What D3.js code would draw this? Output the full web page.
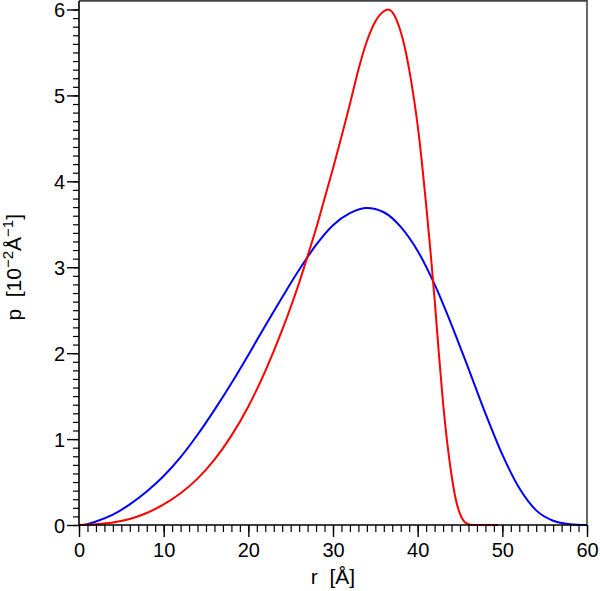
<!DOCTYPE html>
<html>
<head>
<meta charset="utf-8">
<script src="https://cdn.jsdelivr.net/npm/d3@7/dist/d3.min.js"></script>
<style>
	body { margin: 0; background: #fff; }
	svg { display: block; font-family: "Liberation Sans", Arial, sans-serif; }
</style>
</head>
<body>
<svg id="chart"></svg>
<script>
const DIMENSION = {
	width: 600,
	height: 591,
	margin: { left: 79, right: 13, top: 9.5, bottom: 66 }
};
DIMENSION.trueWidth = DIMENSION.width - (DIMENSION.margin.left + DIMENSION.margin.right);
DIMENSION.trueHeight = DIMENSION.height - (DIMENSION.margin.top + DIMENSION.margin.bottom);

// blue curve
const blueR = [0, 1, 2, 4, 6, 8, 10, 12, 14, 16, 18, 20, 22, 24, 26, 28, 30, 32, 34, 36, 38, 40, 42, 44, 46, 48, 50, 52, 54, 56, 58, 60];
const blueP = [0, 0.01, 0.04, 0.12, 0.24, 0.39, 0.57, 0.79, 1.05, 1.34, 1.65, 1.98, 2.32, 2.65, 2.97, 3.26, 3.49, 3.63, 3.69, 3.64, 3.47, 3.19, 2.80, 2.33, 1.82, 1.30, 0.82, 0.43, 0.17, 0.05, 0.01, 0];

// red curve
const redR = [0, 2, 4, 6, 8, 10, 12, 14, 16, 18, 20, 22, 24, 26, 27, 28, 29, 30, 31, 32, 33, 34, 35, 36, 36.5, 37, 37.5, 38, 38.5, 39, 39.5, 40, 40.5, 41, 41.5, 42, 42.5, 43, 43.5, 44, 44.5, 45, 45.5, 46, 46.5, 49.5];
const redP = [0, 0.01, 0.03, 0.07, 0.14, 0.24, 0.37, 0.54, 0.76, 1.04, 1.38, 1.79, 2.27, 2.82, 3.13, 3.45, 3.80, 4.15, 4.52, 4.90, 5.30, 5.63, 5.86, 5.98, 6.0, 5.97, 5.88, 5.74, 5.55, 5.30, 5.00, 4.65, 4.22, 3.73, 3.20, 2.63, 2.00, 1.42, 0.95, 0.58, 0.30, 0.13, 0.04, 0.01, 0, 0];

const xTicks = [0, 10, 20, 30, 40, 50, 60];
const yTicks = [0, 1, 2, 3, 4, 5, 6];

const svg = d3.select('#chart')
	.attr('width', DIMENSION.width)
	.attr('height', DIMENSION.height);

const xScale = d3.scaleLinear()
	.domain([0, 60])
	.range([DIMENSION.margin.left, DIMENSION.margin.left + DIMENSION.trueWidth]);
const yScale = d3.scaleLinear()
	.domain([0, 6])
	.range([DIMENSION.margin.top + DIMENSION.trueHeight, DIMENSION.margin.top]);

// frame (top + right)
svg.append('path')
	.attr('d', `M${xScale(0)},${yScale(6.1)}H${xScale(60)}V${yScale(0)}`)
	.attr('fill', 'none')
	.attr('stroke', '#444')
	.attr('stroke-width', 1.6);

const line = d3.line()
	.x(d => xScale(d[0]))
	.y(d => yScale(d[1]))
	.curve(d3.curveMonotoneX);

svg.append('path')
	.datum(blueR.map((r, i) => [r, blueP[i]]))
	.attr('fill', 'none')
	.attr('stroke', '#0000ff')
	.attr('stroke-width', 2)
	.attr('d', line);

svg.append('path')
	.datum(redR.map((r, i) => [r, redP[i]]))
	.attr('fill', 'none')
	.attr('stroke', '#ff0000')
	.attr('stroke-width', 2)
	.attr('d', line);

// minor ticks
svg.append('g')
	.attr('transform', `translate(0,${yScale(0)})`)
	.call(d3.axisBottom(xScale).tickValues(d3.range(0, 61, 1)).tickSize(7).tickFormat(''))
	.call(g => g.select('.domain').remove())
	.selectAll('line').attr('stroke', '#000').attr('stroke-width', 1.2);
svg.append('g')
	.attr('transform', `translate(${xScale(0)},0)`)
	.call(d3.axisLeft(yScale).tickValues(d3.range(0, 61, 1).map(d => d / 10)).tickSize(6).tickFormat(''))
	.call(g => g.select('.domain').remove())
	.selectAll('line').attr('stroke', '#000').attr('stroke-width', 1.2);

// major axes
const xAxis = svg.append('g')
	.attr('transform', `translate(0,${yScale(0)})`)
	.call(d3.axisBottom(xScale).tickValues(xTicks).tickSize(12).tickPadding(6).tickFormat(d3.format('d')));
const yAxis = svg.append('g')
	.attr('transform', `translate(${xScale(0)},0)`)
	.call(d3.axisLeft(yScale).tickValues(yTicks).tickSize(12).tickPadding(2).tickFormat(d3.format('d')));

for (let ax of [xAxis, yAxis]) {
	ax.select('.domain').remove();
	ax.selectAll('line').attr('stroke', '#000').attr('stroke-width', 1.4);
	ax.selectAll('text')
		.attr('fill', '#000')
		.style('font-family', '"Liberation Sans", Arial, sans-serif')
		.style('font-size', '20px');
}
yAxis.selectAll('text').attr('dy', '0.36em');

// axis lines
svg.append('line')
	.attr('x1', xScale(0)).attr('x2', xScale(0))
	.attr('y1', yScale(0)).attr('y2', yScale(6.1))
	.attr('stroke', '#000').attr('stroke-width', 1.6);
svg.append('line')
	.attr('x1', xScale(0)).attr('x2', xScale(60))
	.attr('y1', yScale(0)).attr('y2', yScale(0))
	.attr('stroke', '#000').attr('stroke-width', 1.6);

// titles
svg.append('text')
	.attr('x', (xScale(0) + xScale(60)) / 2)
	.attr('y', 584)
	.attr('text-anchor', 'middle')
	.style('font-size', '21px')
	.style('white-space', 'pre')
	.text('r  [Å]');

const yTitle = svg.append('text')
	.attr('transform', `translate(21,${(yScale(0) + yScale(6)) / 2}) rotate(-90)`)
	.attr('text-anchor', 'middle')
	.style('font-size', '21px')
	.style('white-space', 'pre');
yTitle.append('tspan').text('p  [10');
yTitle.append('tspan').attr('dy', -8).style('font-size', '15px').text('−2');
yTitle.append('tspan').attr('dy', 8).text('Å');
yTitle.append('tspan').attr('dy', -8).style('font-size', '15px').text('−1');
yTitle.append('tspan').attr('dy', 8).text(']');
</script>
</body>
</html>
